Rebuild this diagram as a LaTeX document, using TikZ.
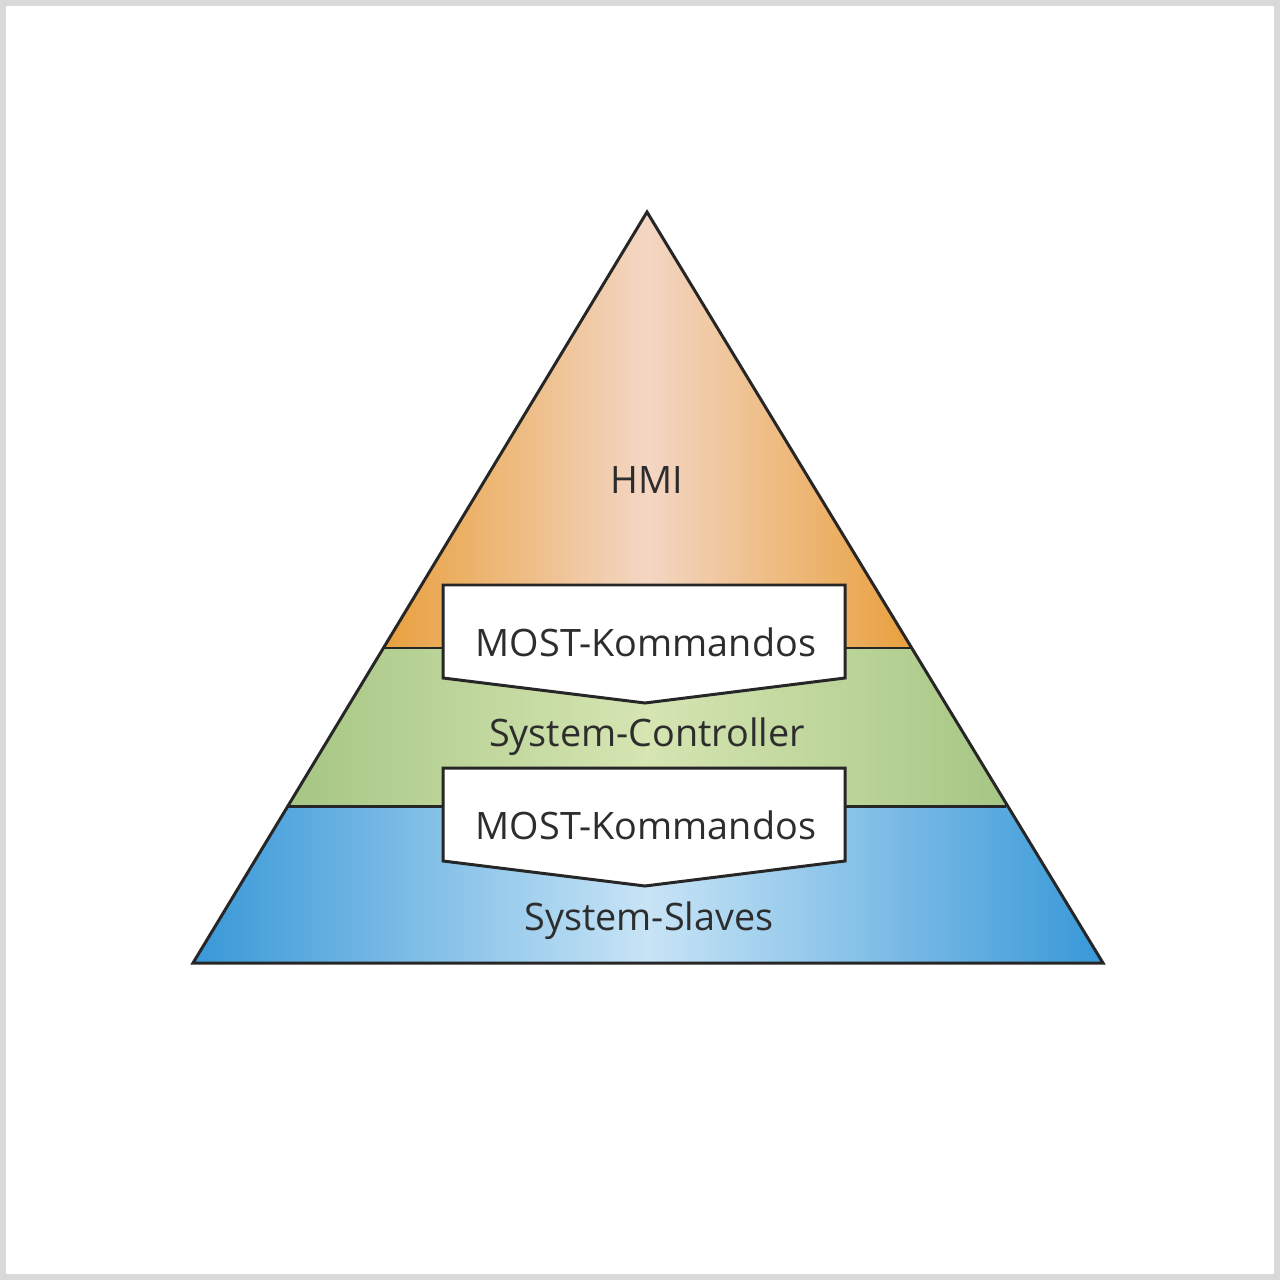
\documentclass[tikz,border=0pt]{standalone}
\usepackage{fontspec}
\setmainfont{Open Sans}
\usepackage{tikz}
\usetikzlibrary{positioning}

\definecolor{hmiside}{RGB}{233,160,62}
\definecolor{hmimid}{RGB}{243,214,196}
\definecolor{ctrside}{RGB}{166,198,132}
\definecolor{ctrmid}{RGB}{214,229,178}
\definecolor{slvside}{RGB}{56,152,216}
\definecolor{slvmid}{RGB}{200,228,246}
\definecolor{txtgray}{RGB}{45,45,45}

\begin{document}
\begin{tikzpicture}[x=0.02cm,y=-0.02cm,
		layer/.style={font=\fontsize{21.5}{26}\selectfont,text=txtgray,inner sep=0pt},
		cmdbox/.style={fill=white,draw=black!85,line width=1.7pt,line join=miter},
		outline/.style={draw=black!85,line width=1.7pt,line join=miter}]

		\useasboundingbox (0,0) rectangle (1280,1280);
		\draw[black!15,line width=3.5pt] (3,3) rectangle (1277,1277);

		%corners of the pyramid
		\coordinate (top) at (647,212);
		\coordinate (bl) at (193,963);
		\coordinate (br) at (1103,963);
		\coordinate (ul) at (383.5,648);
		\coordinate (ur) at (910.5,648);
		\coordinate (ll) at (288,806);
		\coordinate (lr) at (1006,806);

		%bands
		\shade[left color=hmiside,right color=hmiside,middle color=hmimid] (top) -- (ur) -- (ul) -- cycle;
		\shade[left color=ctrside,right color=ctrside,middle color=ctrmid] (ul) -- (ur) -- (lr) -- (ll) -- cycle;
		\shade[left color=slvside,right color=slvside,middle color=slvmid] (ll) -- (lr) -- (br) -- (bl) -- cycle;
		\draw[outline] (ul) -- (ur);
		\draw[outline] (ll) -- (lr);
		\draw[outline] (top) -- (br) -- (bl) -- cycle;

		%boxes
		\draw[cmdbox] (443,585) -- (845,585) -- (845,678) -- (645,703) -- (443,678) -- cycle;
		\draw[cmdbox] (443,768) -- (845,768) -- (845,861) -- (645,886) -- (443,861) -- cycle;

		%labels
		\node[layer] (hmi) at (647,480) {HMI};
		\node[layer] (cmd1) at (646,642) {MOST-Kommandos};
		\node[layer] (ctrl) at (647,737) {System-Controller};
		\node[layer] (cmd2) at (646,825) {MOST-Kommandos};
		\node[layer] (slv) at (649,921) {System-Slaves};

\end{tikzpicture}
\end{document}
